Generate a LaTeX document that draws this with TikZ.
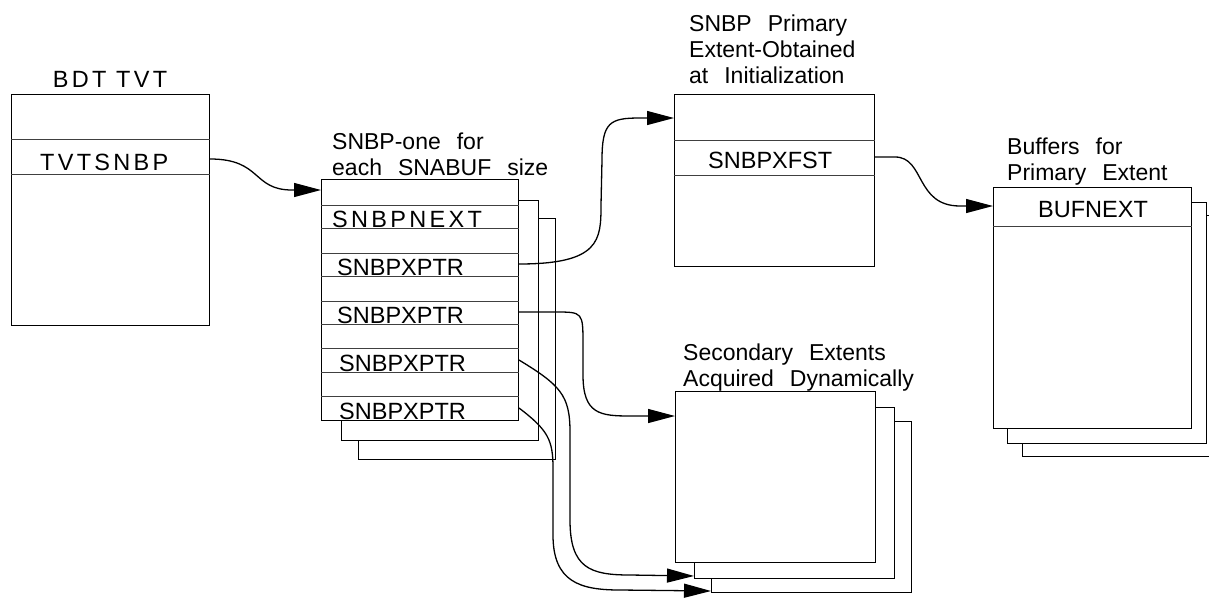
\documentclass[tikz,border=0pt]{standalone}
\usepackage{fontspec}
\setmainfont{Liberation Sans}
\newfontfamily\spacedfont[LetterSpace=14]{Liberation Sans}
\newfontfamily\capfont[WordSpace=2.5]{Liberation Sans}
\usetikzlibrary{arrows.meta}

\begin{document}
\begin{tikzpicture}[x=1pt, y=-1pt,
		box/.style={draw, fill=white, line width=1pt, anchor=north west, inner sep=0pt},
		field/.style={anchor=west, inner sep=0pt, text height=22pt, text depth=0pt, font=\fontsize{23.5}{26}\selectfont},
		wide/.style={field, font=\spacedfont\fontsize{23.5}{26}\selectfont},
		note/.style={anchor=north west, inner sep=0pt, align=left, font=\capfont\fontsize{23}{26}\selectfont},
		sep/.style={line width=0.8pt, black!75},
		ptr/.style={line width=1.3pt, -{Triangle[length=27pt,width=14pt]}}]
		\useasboundingbox (0,0) rectangle (1209,597);
		% BDT TVT
		\node[box, minimum width=198pt, minimum height=231pt] (tvt) at (11,94) {};
		\foreach \d in {45,80}
			\draw[sep] ([yshift=-\d pt]tvt.north west) -- ([yshift=-\d pt]tvt.north east);
		\node[wide, anchor=base] (tvttitle) at (110,87) {BDT TVT};
		\node[wide] (tvtsnbp) at (40,159) {TVTSNBP};
		% SNBP stack
		\node[box, minimum width=197pt, minimum height=241pt] (snbpC) at (358,218) {};
		\node[box, minimum width=197pt, minimum height=240pt] (snbpB) at (341,200) {};
		\node[box, minimum width=197pt, minimum height=241pt] (snbp) at (321,179) {};
		\foreach \d in {26,49,74,97,122,145,169,193,217}
			\draw[sep] ([yshift=-\d pt]snbp.north west) -- ([yshift=-\d pt]snbp.north east);
		\node[note] (snbptitle) at (332,133) {SNBP-one for\\each SNABUF size};
		\node[wide] (next) at (332,216) {SNBPNEXT};
		\node[field] (xptrA) at (337,264) {SNBPXPTR};
		\node[field] (xptrB) at (337,312) {SNBPXPTR};
		\node[field] (xptrC) at (339,360) {SNBPXPTR};
		\node[field] (xptrD) at (339,408) {SNBPXPTR};
		% Primary extent
		\node[box, minimum width=200pt, minimum height=172pt] (prim) at (674,94) {};
		\foreach \d in {46,81}
			\draw[sep] ([yshift=-\d pt]prim.north west) -- ([yshift=-\d pt]prim.north east);
		\node[note] (primtitle) at (689,15) {SNBP Primary\\Extent-Obtained\\at Initialization};
		\node[field] (xfst) at (708,157) {SNBPXFST};
		% Secondary extents
		\node[box, minimum width=200pt, minimum height=171pt] (secC) at (711,421) {};
		\node[box, minimum width=200pt, minimum height=171pt] (secB) at (694,407) {};
		\node[box, minimum width=200pt, minimum height=171pt] (sec) at (675,391) {};
		\node[note] (sectitle) at (683,344) {Secondary Extents\\Acquired Dynamically};
		% Buffers
		\node[box, minimum width=199pt, minimum height=241pt] (bufC) at (1022,215) {};
		\node[box, minimum width=199pt, minimum height=241pt] (bufB) at (1007,202) {};
		\node[box, minimum width=198pt, minimum height=241pt] (buf) at (993,187) {};
		\draw[sep] ([yshift=-39pt]buf.north west) -- ([yshift=-39pt]buf.north east);
		\node[note] (buftitle) at (1007,138) {Buffers for\\Primary Extent};
		\node[field] (bufnext) at (1038,206) {BUFNEXT};
		% Pointers
		\draw[ptr] (tvt.east |- tvtsnbp) .. controls (262,159) and (252,190) .. (292,190) -- ([yshift=-11pt]snbp.north west);
		\draw[ptr] (snbp.east |- xptrA) .. controls (600,264) and (601,240) .. (601,205) -- (602,160) .. controls (602,122) and (610,118) .. (640,118) -- ([yshift=-24pt]prim.north west);
		\draw[ptr] (prim.east |- xfst) -- (895,157) .. controls (925,157) and (915,206) .. (960,206) -- ([yshift=-19pt]buf.north west);
		\draw[ptr] (snbp.east |- xptrB) -- (555,312) .. controls (583,312) .. (583,345) -- (583,375) .. controls (583,414) and (600,416) .. (630,416) -- ([yshift=-25pt]sec.north west);
		\draw[ptr] (snbp.east |- xptrC) .. controls (560,385) and (570,395) .. (570,432) -- (570,520) .. controls (570,568) and (590,575) .. (630,575) -- ([yshift=3pt]secB.south west);
		\draw[ptr] (snbp.east |- xptrD) .. controls (548,430) and (553,440) .. (553,468) -- (553,535) .. controls (553,582) and (580,590) .. (620,590) -- ([yshift=2pt]secC.south west);
	\end{tikzpicture}
\end{document}
